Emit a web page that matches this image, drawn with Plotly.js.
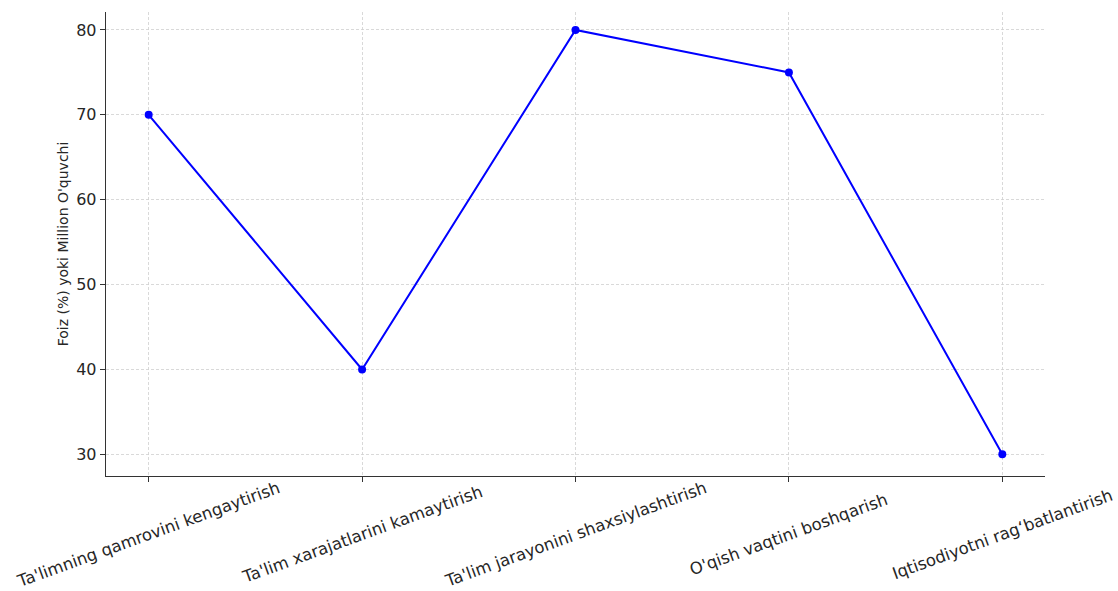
<!DOCTYPE html>
<html>
<head>
<meta charset="utf-8">
<script src="https://cdn.plot.ly/plotly-3.0.1.min.js"></script>
<style>html,body{margin:0;padding:0;background:#fff;}#chart{width:1118px;height:591px;}</style>
</head>
<body>
<div id="chart"></div>
<script>
const categories = [
  "Ta'limning qamrovini kengaytirish",
  "Ta'lim xarajatlarini kamaytirish",
  "Ta'lim jarayonini shaxsiylashtirish",
  "O'qish vaqtini boshqarish",
  "Iqtisodiyotni rag\u2018batlantirish"
];
const values = [70, 40, 80, 75, 30];
const yTicks = [30, 40, 50, 60, 70, 80];
const yTitle = "Foiz (%) yoki Million O'quvchi";

const xIdx = categories.map((_, i) => i);
const txt = '#262626';

const trace = {
  x: xIdx,
  y: values,
  type: 'scatter',
  mode: 'lines+markers',
  line: {color: '#0000ff', width: 2},
  marker: {color: '#0000ff', size: 8},
  hoverinfo: 'skip'
};

const annotations = categories.map((c, i) => ({
  x: i, xref: 'x',
  y: -0.126, yref: 'paper',
  text: c,
  showarrow: false,
  textangle: -20,
  xanchor: 'center', yanchor: 'middle',
  font: {family: 'DejaVu Sans', size: 16.5, color: txt}
}));

const layout = {
  width: 1118, height: 591,
  margin: {l: 106, r: 73, t: 12, b: 115},
  paper_bgcolor: '#fff', plot_bgcolor: '#fff',
  showlegend: false,
  font: {family: 'DejaVu Sans', size: 14, color: txt},
  annotations: annotations,
  xaxis: {
    range: [-0.2, 4.2],
    tickvals: xIdx,
    showticklabels: false,
    showgrid: true, gridcolor: '#cfcfcf', griddash: '3px,2px', gridwidth: 0.8,
    zeroline: false,
    showline: true, linecolor: '#333333', linewidth: 1.3,
    ticks: 'outside', ticklen: 5, tickcolor: '#333333', tickwidth: 1,
  },
  yaxis: {
    range: [27.45, 82.12],
    tickvals: yTicks,
    showgrid: true, gridcolor: '#cfcfcf', griddash: '3px,2px', gridwidth: 0.8,
    zeroline: false,
    showline: true, linecolor: '#333333', linewidth: 1.3,
    ticks: 'outside', ticklen: 5, tickcolor: '#333333', tickwidth: 1,
    tickfont: {family: 'DejaVu Sans', size: 16, color: txt},
    title: {text: yTitle, font: {family: 'DejaVu Sans', size: 14, color: txt}, standoff: 4}
  }
};

Plotly.newPlot('chart', [trace], layout, {displayModeBar: false, staticPlot: true});
</script>
</body>
</html>
